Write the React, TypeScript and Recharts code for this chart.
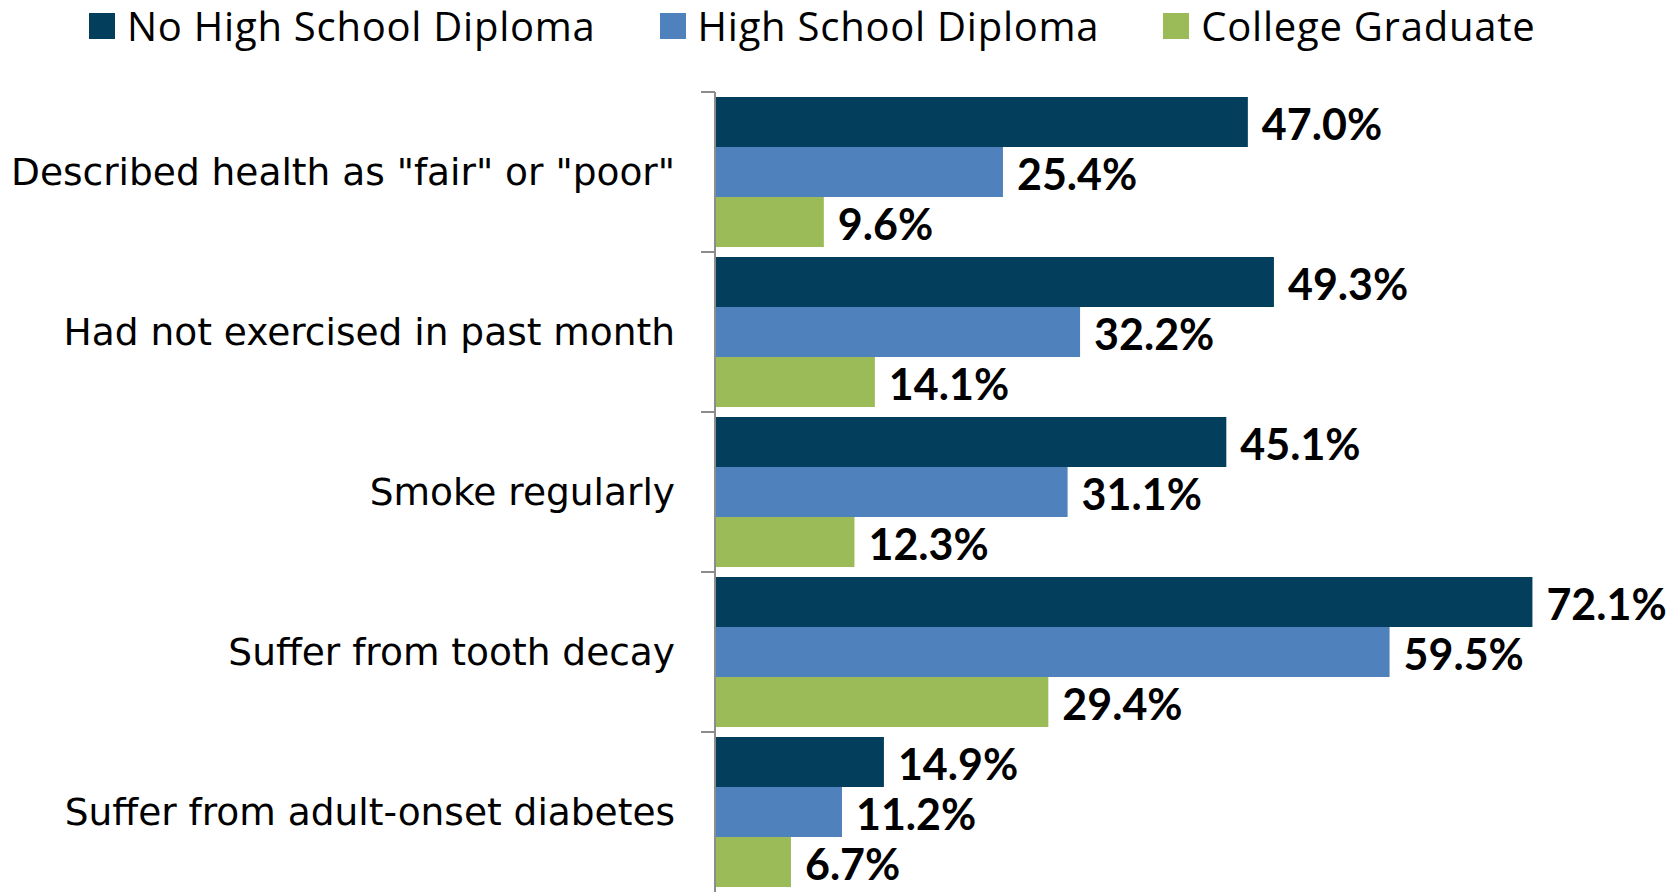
import React from 'react';
import { BarChart, Bar, XAxis, YAxis, LabelList } from 'recharts';

const categories = [
  'Described health as "fair" or "poor"',
  'Had not exercised in past month',
  'Smoke regularly',
  'Suffer from tooth decay',
  'Suffer from adult-onset diabetes',
];
const noDiploma = [47.0, 49.3, 45.1, 72.1, 14.9];
const diploma = [25.4, 32.2, 31.1, 59.5, 11.2];
const college = [9.6, 14.1, 12.3, 29.4, 6.7];

const series = [
  { key: 'noDiploma', name: 'No High School Diploma', color: '#033F5C' },
  { key: 'diploma', name: 'High School Diploma', color: '#4F81BD' },
  { key: 'college', name: 'College Graduate', color: '#9BBB59' },
];

const data = categories.map((name, i) => ({
  name,
  noDiploma: noDiploma[i],
  diploma: diploma[i],
  college: college[i],
}));

const TICK_SIZE = 14;
const TICK_MARGIN = 26;
const AXIS_GREY = '#8C8C8C';

// Excel puts the tick marks between categories, so draw them at the band edge
const CategoryTick = (props: any) => {
  const { x, y, payload } = props;
  const axisX = x + TICK_SIZE + TICK_MARGIN;
  const edge = y - (payload.offset ?? 80);
  return (
    <g>
      <line x1={axisX - TICK_SIZE} x2={axisX} y1={edge} y2={edge} stroke={AXIS_GREY} strokeWidth={2} />
      <text
        x={x}
        y={y}
        textAnchor="end"
        dominantBaseline="central"
        fontFamily="'DejaVu Sans', sans-serif"
        fontSize={37.5}
        fill="#000"
      >
        {payload.value}
      </text>
    </g>
  );
};

const fmt = (v: any) => `${Number(v).toFixed(1)}%`;

export default function App() {
  return (
    <div style={{ position: 'absolute', left: 0, top: 0, width: 1677, height: 892, background: '#fff' }}>
      <div
        style={{
          position: 'absolute',
          left: 89,
          top: 6,
          display: 'flex',
          alignItems: 'center',
          fontFamily: "'Open Sans', sans-serif",
          fontSize: 40,
          letterSpacing: 0.75,
          lineHeight: 1,
          height: 40,
          whiteSpace: 'nowrap',
        }}
      >
        {series.map((s) => (
          <div key={s.key} style={{ display: 'flex', alignItems: 'center', marginRight: 64 }}>
            <span style={{ display: 'inline-block', width: 26, height: 26, background: s.color, marginRight: 12 }} />
            <span>{s.name}</span>
          </div>
        ))}
      </div>
      <BarChart
        width={1677}
        height={892}
        data={data}
        layout="vertical"
        margin={{ top: 92, right: 55, bottom: 0, left: 0 }}
        barCategoryGap={5}
        barGap={0}
      >
        <XAxis type="number" domain={[0, 80]} hide />
        <YAxis
          type="category"
          dataKey="name"
          width={715}
          tickSize={TICK_SIZE}
          tickMargin={TICK_MARGIN}
          tickLine={false}
          axisLine={{ stroke: AXIS_GREY, strokeWidth: 2 }}
          tick={<CategoryTick />}
          interval={0}
        />
        {series.map((s) => (
          <Bar key={s.key} dataKey={s.key} name={s.name} fill={s.color} isAnimationActive={false}>
            <LabelList
              dataKey={s.key}
              position="right"
              offset={14}
              dy={3}
              formatter={fmt}
              fill="#000"
              fontFamily="Lato, sans-serif"
              fontWeight={700}
              fontSize={43}
            />
          </Bar>
        ))}
      </BarChart>
    </div>
  );
}
